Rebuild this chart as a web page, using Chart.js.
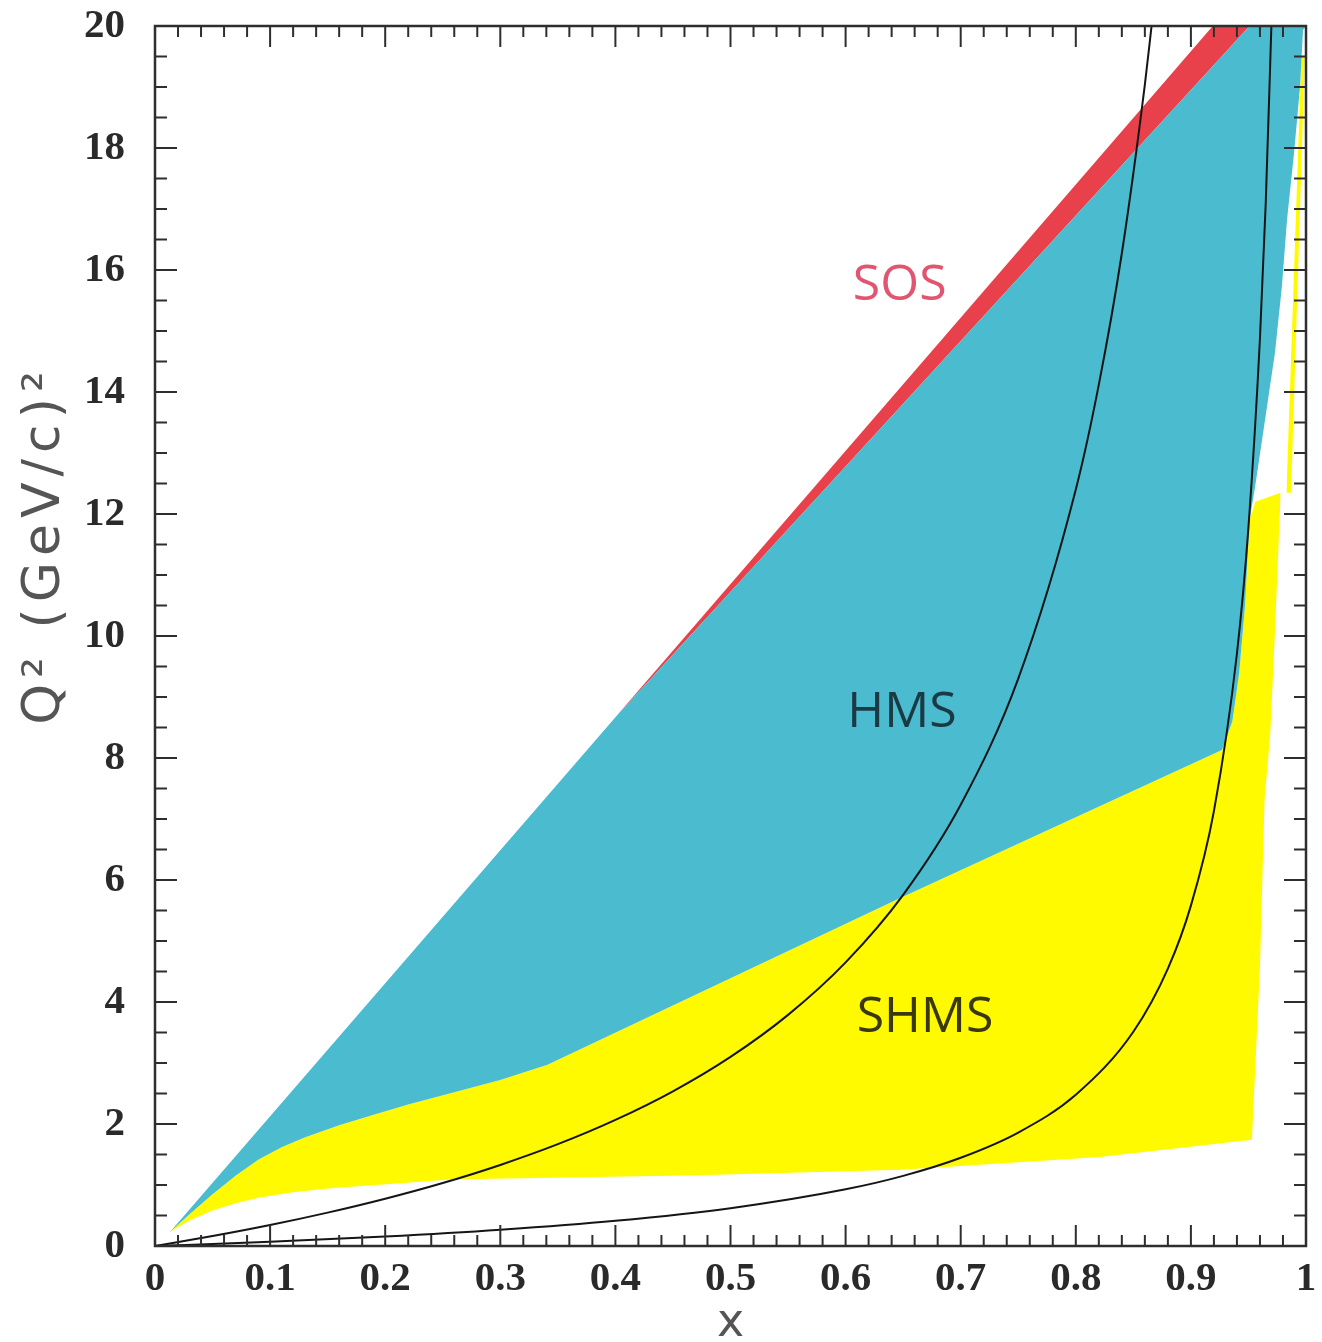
<!DOCTYPE html>
<html>
<head>
<meta charset="utf-8">
<script src="https://cdn.jsdelivr.net/npm/chart.js@4.4.1/dist/chart.umd.min.js"></script>
<style>
  html, body { margin: 0; padding: 0; background: #fff; overflow: hidden; }
  #wrap { width: 1322px; height: 1342px; position: relative; }
</style>
</head>
<body>
<div id="wrap"><canvas id="chart"></canvas></div>
<script>
// Kinematic coverage boundaries as [x, Q^2] pairs
const sosUpper = [[0.013, 0.23], [0.40, 8.67], [0.919, 20.0], [1.0, 20.0]];
const hmsUpper = [[0.013, 0.23], [0.40, 8.67], [0.653, 13.87], [0.951, 20.0], [1.0, 20.0]];
const hmsLower = [
    [0.013, 0.23], [0.03, 0.52], [0.05, 0.85], [0.07, 1.15], [0.09, 1.42], [0.11, 1.62],
    [0.13, 1.78], [0.16, 1.98], [0.19, 2.15], [0.22, 2.32], [0.26, 2.52], [0.30, 2.72],
    [0.341, 2.97], [0.647, 5.70], [0.927, 8.13], [0.936, 8.6], [0.942, 9.4], [0.947, 10.5],
    [0.951, 11.9], [0.9557, 12.44], [0.9644, 13.54], [0.973, 14.64], [0.979, 15.72],
    [0.9835, 16.82], [0.9896, 17.92], [0.9948, 19.0], [0.9974, 19.93], [1.0, 20.0]
];
const shmsUpper = [
    [0.013, 0.23], [0.03, 0.52], [0.05, 0.85], [0.07, 1.15], [0.09, 1.42], [0.11, 1.62],
    [0.13, 1.78], [0.16, 1.98], [0.19, 2.15], [0.22, 2.32], [0.26, 2.52], [0.30, 2.72],
    [0.341, 2.97], [0.647, 5.70], [0.927, 8.13], [0.936, 8.6], [0.942, 9.4], [0.947, 10.5],
    [0.951, 11.9], [0.956, 12.2], [0.978, 12.35]
];
const shmsLower = [
    [0.013, 0.23], [0.03, 0.42], [0.05, 0.58], [0.07, 0.70], [0.09, 0.79], [0.12, 0.88],
    [0.155, 0.95], [0.213, 1.03], [0.256, 1.09], [0.473, 1.16], [0.647, 1.25], [0.69, 1.30],
    [0.821, 1.46], [0.953, 1.74], [0.960, 4.57], [0.964, 7.31], [0.969, 8.41], [0.973, 10.05],
    [0.978, 12.35]
];
const shmsEdgeUpper = [[0.983, 12.35], [0.996, 19.5], [0.999, 19.5]];
const shmsEdgeLower = [[0.983, 12.35], [0.987, 12.35], [0.999, 19.5]];

// Constant-W curves
const curveW2 = [
    [0, 0], [0.05, 0.163], [0.1, 0.344], [0.15, 0.547], [0.2, 0.775], [0.25, 1.033], [0.3, 1.329],
    [0.35, 1.669], [0.4, 2.067], [0.45, 2.536], [0.5, 3.1], [0.55, 3.789], [0.6, 4.65],
    [0.65, 5.757], [0.7, 7.233], [0.75, 9.3], [0.8, 12.4], [0.82, 14.12], [0.84, 16.275],
    [0.86, 19.04], [0.866, 20.03]
];
const curveW1 = [
    [0, 0], [0.1, 0.069], [0.2, 0.155], [0.3, 0.266], [0.4, 0.413], [0.5, 0.62], [0.6, 0.93],
    [0.65, 1.15], [0.7, 1.447], [0.75, 1.86], [0.8, 2.48], [0.85, 3.513], [0.88, 4.547],
    [0.9, 5.58], [0.92, 7.13], [0.94, 9.713], [0.95, 11.78], [0.96, 14.88], [0.965, 17.09],
    [0.97, 20.05]
];

// Region labels
const regionLabels = [
    { text: 'SOS', x: 0.647, y: 15.75, color: '#e25570' },
    { text: 'HMS', x: 0.649, y: 8.74, color: '#1c3a44' },
    { text: 'SHMS', x: 0.669, y: 3.74, color: '#3a3810' }
];

const pts = arr => arr.map(([x, y]) => ({ x, y }));

const edge = (data, fill, color) => ({
    data: pts(data),
    borderWidth: 0,
    borderColor: 'transparent',
    backgroundColor: color || 'transparent',
    pointRadius: 0,
    fill: fill === undefined ? false : fill,
    tension: 0
});

const curve = data => ({
    data: pts(data),
    borderWidth: 2,
    borderColor: '#151515',
    pointRadius: 0,
    fill: false,
    cubicInterpolationMode: 'monotone'
});

// Frame, inward ticks, region labels and axis titles
const framePlugin = {
    id: 'frame',
    afterDatasetsDraw(chart) {
        const { ctx, chartArea: a, scales: { x, y } } = chart;
        ctx.save();
        ctx.strokeStyle = '#2e2e2e';
        ctx.lineWidth = 2;
        ctx.beginPath();
        for (let i = 0; i <= 50; i++) {
            const px = x.getPixelForValue(i / 50);
            const len = i % 5 === 0 ? 21 : 11;
            ctx.moveTo(px, a.bottom); ctx.lineTo(px, a.bottom - len);
            ctx.moveTo(px, a.top); ctx.lineTo(px, a.top + len);
        }
        for (let i = 0; i <= 40; i++) {
            const py = y.getPixelForValue(i / 2);
            const len = i % 4 === 0 ? 22 : 12;
            ctx.moveTo(a.left, py); ctx.lineTo(a.left + len, py);
            ctx.moveTo(a.right, py); ctx.lineTo(a.right - len, py);
        }
        ctx.stroke();
        ctx.lineWidth = 2.5;
        ctx.strokeRect(a.left, a.top, a.right - a.left, a.bottom - a.top);

        ctx.font = '50px "Open Sans"';
        ctx.textAlign = 'center';
        ctx.textBaseline = 'middle';
        regionLabels.forEach(l => {
            ctx.fillStyle = l.color;
            ctx.fillText(l.text, x.getPixelForValue(l.x), y.getPixelForValue(l.y));
        });

        // x axis title
        ctx.fillStyle = '#555';
        ctx.font = '46px "DejaVu Sans"';
        ctx.fillText('x', (a.left + a.right) / 2, 1324);

        // y axis title
        ctx.translate(45, 545);
        ctx.rotate(-Math.PI / 2);
        ctx.font = '52px "DejaVu Sans"';
        ctx.letterSpacing = '6px';
        ctx.fillText('Q² (GeV/c)²', 0, 0);
        ctx.restore();
    }
};

const ctx = document.getElementById('chart').getContext('2d');
new Chart(ctx, {
    type: 'line',
    data: {
        datasets: [
            curve(curveW2),
            curve(curveW1),
            edge(hmsUpper, 3, '#4bbbcf'),
            edge(hmsLower),
            edge(sosUpper, 2, '#e8414b'),
            edge(shmsUpper, 6, '#fffa00'),
            edge(shmsLower),
            edge(shmsEdgeUpper, 8, '#fffa00'),
            edge(shmsEdgeLower)
        ]
    },
    options: {
        responsive: true,
        maintainAspectRatio: false,
        animation: false,
        layout: { padding: 0 },
        plugins: {
            legend: { display: false },
            tooltip: { enabled: false }
        },
        scales: {
            x: {
                type: 'linear',
                min: 0,
                max: 1,
                grid: { display: false, drawTicks: false },
                border: { display: false },
                ticks: {
                    stepSize: 0.1,
                    padding: 9,
                    color: '#2a2a2a',
                    font: { family: 'Liberation Serif', weight: 'bold', size: 41 },
                    callback: v => (v === 0 || v === 1) ? String(v) : v.toFixed(1)
                },
                afterFit: s => { s.height = 96; s.paddingLeft = 0; s.paddingRight = 16; }
            },
            y: {
                type: 'linear',
                min: 0,
                max: 20,
                grid: { display: false, drawTicks: false },
                border: { display: false },
                ticks: {
                    stepSize: 2,
                    padding: 30,
                    color: '#2a2a2a',
                    font: { family: 'Liberation Serif', weight: 'bold', size: 41 }
                },
                afterFit: s => { s.width = 155; s.paddingTop = 26; s.paddingBottom = 0; }
            }
        }
    },
    plugins: [framePlugin]
});
</script>
</body>
</html>
